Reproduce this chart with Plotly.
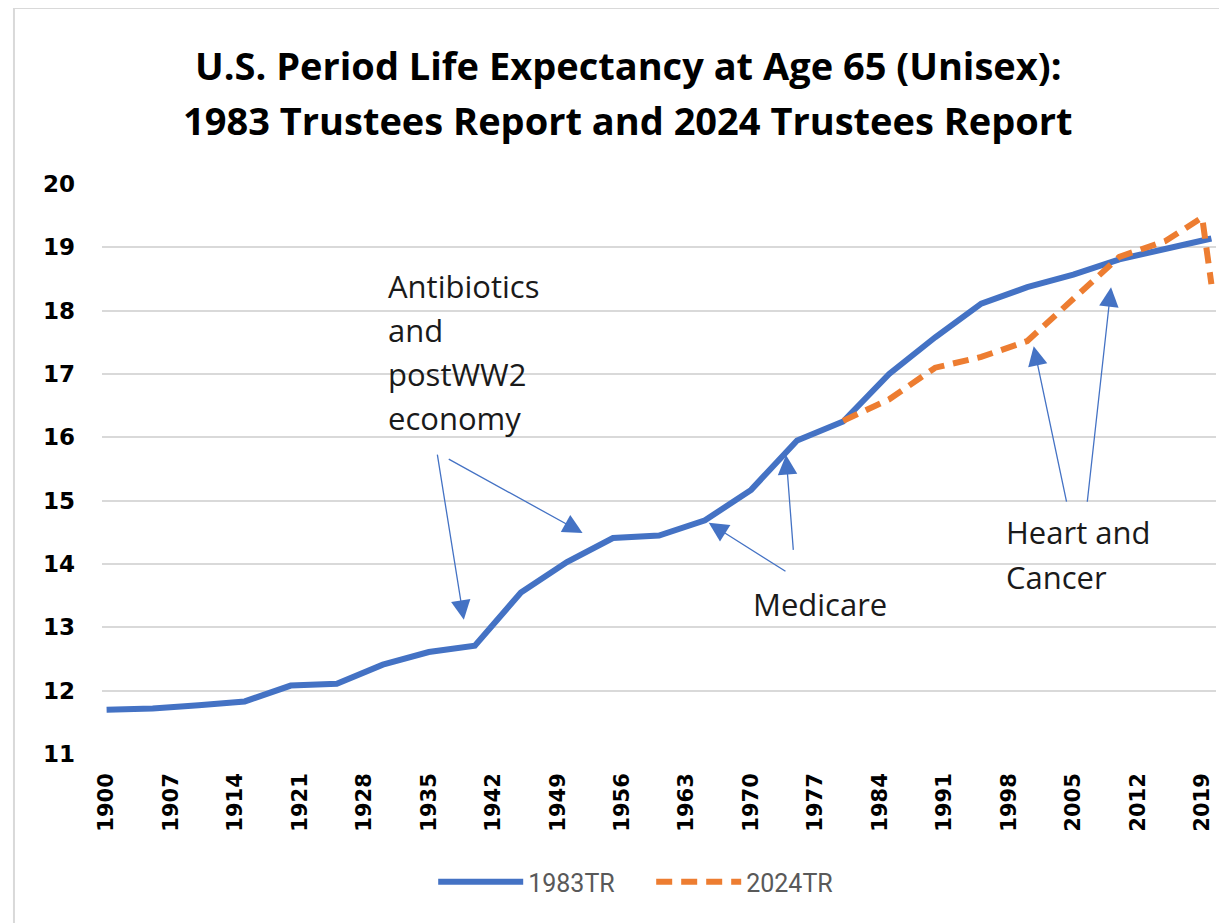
import plotly.graph_objects as go

# ---------------- data ----------------
years_1983 = [1900, 1905, 1910, 1915, 1920, 1925, 1930, 1935, 1940, 1945, 1950, 1955,
              1960, 1965, 1970, 1975, 1980, 1985, 1990, 1995, 2000, 2005, 2010, 2015, 2020]
le_1983 = [11.70, 11.72, 11.77, 11.83, 12.08, 12.11, 12.41, 12.61, 12.71, 13.55, 14.03, 14.41,
           14.45, 14.69, 15.17, 15.95, 16.25, 17.00, 17.58, 18.11, 18.37, 18.57, 18.81, 18.97, 19.14]

years_2024 = [1980, 1985, 1990, 1995, 2000, 2005, 2010, 2015, 2019, 2020]
le_2024 = [16.26, 16.60, 17.10, 17.27, 17.52, 18.20, 18.85, 19.10, 19.47, 18.42]

x_tick_years = list(range(1900, 2020, 7))
y_ticks = list(range(11, 21))

title_lines = ["U.S. Period Life Expectancy at Age 65 (Unisex):",
               "1983 Trustees Report and 2024 Trustees Report"]

# label text, (year, value) anchor of the left edge / vertical middle
labels = [
    ("Antibiotics", 1930.4, 18.39),
    ("and", 1930.4, 17.70),
    ("postWW2", 1930.4, 17.00),
    ("economy", 1930.4, 16.31),
    ("Medicare", 1970.0, 13.37),
    ("Heart and", 1997.5, 14.51),
    ("Cancer", 1997.5, 13.80),
]

# arrows: (tail year, tail value, tip year, tip value)
arrows = [
    (1935.9, 15.75, 1938.8, 13.12),
    (1937.0, 15.67, 1951.7, 14.49),
    (1973.9, 13.87, 1965.4, 14.65),
    (1974.6, 14.20, 1973.8, 15.72),
    (2004.3, 14.96, 2000.7, 17.44),
    (2006.5, 14.96, 2009.1, 18.37),
]

BLUE = "#4472C4"
ORANGE = "#ED7D31"
GRID = "#D9D9D9"

fig = go.Figure()
fig.add_trace(go.Scatter(x=years_1983, y=le_1983, mode="lines", name="1983TR",
                         line=dict(color=BLUE, width=6)))
fig.add_trace(go.Scatter(x=years_2024, y=le_2024, mode="lines", name="2024TR",
                         line=dict(color=ORANGE, width=6, dash="16px,9px")))

OFF = 8  # default body margin of the page
W, H = 1227 - OFF, 923 - OFF
PL, PR, PT, PB = 102, 1215.6, 184, 754   # plot area in page pixels
L, T = PL - OFF, PT - OFF
R = W - (PR - OFF)
B = H - (PB - OFF)
pw, ph = PR - PL, PB - PT


def px_to_paper(px, py):
    return (px - PL) / pw, (PB - py) / ph


annotations = []
for i, line in enumerate(title_lines):
    xp, yp = px_to_paper(628, 65 + i * 55)
    annotations.append(dict(text=line, xref="paper", yref="paper", x=xp, y=yp,
                            xanchor="center", yanchor="middle", showarrow=False,
                            font=dict(family="Open Sans", size=38, color="#000000",
                                      weight="bold")))

for txt, xv, yv in labels:
    annotations.append(dict(text=txt, xref="x", yref="y", x=xv, y=yv,
                            xanchor="left", yanchor="middle", showarrow=False,
                            font=dict(family="Open Sans", size=31, color="#1a1a1a")))

for tx, ty, hx, hy in arrows:
    annotations.append(dict(text="", xref="x", yref="y", x=hx, y=hy,
                            axref="x", ayref="y", ax=tx, ay=ty, showarrow=True,
                            arrowhead=2, arrowsize=3.0, arrowwidth=1.3,
                            arrowcolor=BLUE, standoff=0))

# chart-area border (top and left edges visible)
x0, y0 = px_to_paper(14, 8)
x1, _ = px_to_paper(1240, 8)
_, yb = px_to_paper(14, 940)
shapes = [
    dict(type="line", xref="paper", yref="paper", x0=x0, y0=y0, x1=x1, y1=y0,
         line=dict(color=GRID, width=2)),
    dict(type="line", xref="paper", yref="paper", x0=x0, y0=yb, x1=x0, y1=y0,
         line=dict(color=GRID, width=2)),
]

lx, ly = px_to_paper(651, 882)
fig.update_layout(
    width=W, height=H,
    margin=dict(l=L, r=R, t=T, b=B, pad=0),
    paper_bgcolor="white", plot_bgcolor="white",
    showlegend=True,
    legend=dict(orientation="h", x=lx, y=ly, xanchor="center", yanchor="middle",
                font=dict(family="Roboto", size=25, color="#595959"),
                itemwidth=85, entrywidth=118),
    annotations=annotations,
    shapes=shapes,
    xaxis=dict(range=[1899.5, 2020.5], tickmode="array", tickvals=x_tick_years,
               ticktext=[str(y) for y in x_tick_years], tickangle=-90,
               showgrid=False, zeroline=False, showline=False, ticks="",
               ticklabelstandoff=14,
               tickfont=dict(family="DejaVu Sans", size=21, color="#000000",
                             weight="bold")),
    yaxis=dict(range=[11, 20], tickmode="array", tickvals=y_ticks,
               showgrid=True, gridcolor=GRID, gridwidth=2, zeroline=False,
               showline=False, ticks="", ticklabelstandoff=26,
               tickfont=dict(family="DejaVu Sans", size=23, color="#000000",
                             weight="bold")),
)

fig.write_html("out.html")
